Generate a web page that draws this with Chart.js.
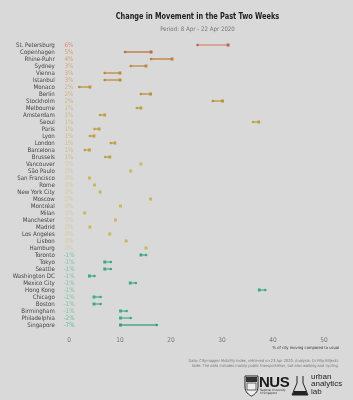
<!DOCTYPE html>
<html>
<head>
<meta charset="utf-8">
<script src="https://cdn.jsdelivr.net/npm/chart.js@4.4.1/dist/chart.umd.min.js"></script>
<style>
  html, body { margin:0; padding:0; background:#d9d9d9; }
  #wrap { position:relative; width:353px; height:400px; overflow:hidden; background:#d9d9d9; }
  #c { position:absolute; left:0; top:0; }
  .t { position:absolute; white-space:nowrap; font-family:"Liberation Sans Narrow","DejaVu Sans Condensed","Roboto",sans-serif; }
  #title { left:0; width:395px; top:10px; text-align:center; font-weight:bold; font-size:9.4px; color:#222; transform:scaleX(0.78); transform-origin:197.5px 0; }
  #sub { left:0; width:395px; top:25px; text-align:center; font-size:6.1px; color:#777; }
  #foot { right:14px; top:357.5px; text-align:right; font-size:3.95px; line-height:5px; color:#777; }
  #nus { left:259px; top:373px; font-family:"Liberation Sans","Roboto",sans-serif; font-weight:bold; font-size:15px; color:#1a1a1a; letter-spacing:-0.5px; }
  #nussub { left:260px; top:389px; font-size:3px; line-height:3.4px; color:#333; }
  #ual { left:311px; top:373px; font-family:"Liberation Sans","Roboto",sans-serif; font-size:8px; line-height:7.4px; color:#222; }
</style>
</head>
<body>
<div id="wrap">
  <canvas id="c" width="353" height="400"></canvas>
  <div class="t" id="title">Change in Movement in the Past Two Weeks</div>
  <div class="t" id="sub">Period: 8 Apr - 22 Apr 2020</div>
  <div class="t" id="foot">Data: Citymapper Mobility Index, retrieved on 23 Apr 2020. Analysis: Dr Filip Biljecki.<br>Note: The data includes mainly public transportation, but also walking and cycling.</div>
  <svg style="position:absolute;left:244px;top:375px" width="15" height="22" viewBox="0 0 15 22">
    <path d="M1 1 H14 V12 C14 17 10 20 7.5 21 C5 20 1 17 1 12 Z" fill="#eee" stroke="#222" stroke-width="1"/>
    <rect x="2" y="2" width="11" height="5" fill="#333"/>
    <rect x="3" y="8" width="9" height="7" fill="none" stroke="#444" stroke-width="0.8"/>
  </svg>
  <div class="t" id="nus">NUS</div>
  <div class="t" id="nussub">National University<br>of Singapore</div>
  <svg style="position:absolute;left:291px;top:375px" width="18" height="22" viewBox="0 0 18 22">
    <path d="M6 1 V8 L1 20 H17 L12 8 V1" fill="none" stroke="#222" stroke-width="1"/>
    <path d="M3 16 H15 L16.5 20 H1.5 Z" fill="#222"/>
  </svg>
  <div class="t" id="ual">urban<br>analytics<br>lab</div>
</div>
<script>
// ---- data ----
const cities = ["St. Petersburg","Copenhagen","Rhine-Ruhr","Sydney","Vienna","Istanbul","Monaco","Berlin","Stockholm","Melbourne","Amsterdam","Seoul","Paris","Lyon","London","Barcelona","Brussels","Vancouver","São Paulo","San Francisco","Rome","New York City","Moscow","Montréal","Milan","Manchester","Madrid","Los Angeles","Lisbon","Hamburg","Toronto","Tokyo","Seattle","Washington DC","Mexico City","Hong Kong","Chicago","Boston","Birmingham","Philadelphia","Singapore"];
const apr8  = [25.2,11.0,16.1,12.1,7.0,7.0,2.0,14.1,28.2,13.3,6.1,36.1,5.0,4.1,8.2,3.1,7.1,14.1,12.1,4.0,5.0,6.1,16.0,10.1,3.1,9.1,4.1,8.0,11.2,15.1,15.1,8.2,8.2,5.0,13.1,38.5,6.2,6.2,11.3,12.1,17.2];
const apr22 = [31.2,16.1,20.2,15.1,10.0,10.0,4.1,16.0,30.1,14.1,7.0,37.2,5.9,4.9,9.0,4.0,8.0,14.1,12.1,4.0,5.0,6.1,16.0,10.1,3.1,9.1,4.1,8.0,11.2,15.1,14.1,7.0,7.0,4.0,12.0,37.3,4.9,4.9,10.1,10.1,10.1];
const changeLabels = [6,5,4,3,3,3,2,2,2,1,1,1,1,1,1,1,1,0,0,0,0,0,0,0,0,0,0,0,0,0,-1,-1,-1,-1,-1,-1,-1,-1,-1,-2,-7];
const xTicks = [0,10,20,30,40,50];

// ---- styles ----
const markColor = {6:"#c4604e",5:"#b8703a",4:"#bf7c3a",3:"#bd883e",2:"#b8923c",1:"#bea042",0:"#c9b95c","-1":"#3ea884","-2":"#3ea884","-7":"#2f9c7a"};
const lineColor = {6:"#d4947e",5:"#bd8050",4:"#c28a4e",3:"#c09450",2:"#bc9c50",1:"#c2a854",0:"#cfc070","-1":"#5cb494","-2":"#5cb494","-7":"#4aa888"};
const labelColor = {6:"#d9897a",5:"#d69a6c",4:"#d2a472",3:"#cfaa78",2:"#ccb27e",1:"#cdbb86",0:"#d2cba4","-1":"#7cc2a6","-2":"#6cbc9c","-7":"#5cb494"};
const rowMark = changeLabels.map(v => markColor[v]);
const rowLine = changeLabels.map(v => lineColor[v]);

const FONT = "'Liberation Sans Narrow','DejaVu Sans Condensed','Roboto',sans-serif";

const pctPlugin = {
  id: 'pct',
  afterDatasetsDraw(chart) {
    const {ctx, scales:{x, y}} = chart;
    ctx.save();
    ctx.font = "6.3px " + FONT;
    ctx.textAlign = 'center';
    ctx.textBaseline = 'middle';
    changeLabels.forEach((v, i) => {
      ctx.fillStyle = labelColor[v];
      ctx.fillText(v + '%', x.getPixelForValue(0), y.getPixelForValue(i));
    });
    ctx.restore();
  }
};

new Chart(document.getElementById('c'), {
  type: 'bar',
  data: {
    labels: cities,
    datasets: [
      { type:'bar', data: apr8.map((v,i)=>[v, apr22[i]]), backgroundColor: rowLine, borderWidth:0, barThickness:1, order:3 },
      { type:'line', data: apr8, showLine:false, pointRadius:1.3, pointBackgroundColor: rowMark, pointBorderColor: rowMark, pointBorderWidth:0, order:2 },
      { type:'line', data: apr22, showLine:false, pointRadius:2.0, pointStyle:'rect', pointBackgroundColor: rowMark, pointBorderColor: rowMark, pointBorderWidth:0, order:1 }
    ]
  },
  options: {
    indexAxis: 'y',
    responsive: false,
    animation: false,
    layout: { padding: { left:0, right:14, top:41.5, bottom:50 } },
    plugins: { legend:{display:false}, tooltip:{enabled:false}, title:{display:false} },
    scales: {
      x: {
        min: -2, max: 52.94,
        afterBuildTicks(s){ s.ticks = xTicks.map(v=>({value:v})); },
        afterFit(s){ s.height = 21.5; },
        grid: { display:false, drawTicks:false },
        border: { display:false },
        ticks: { padding:8, color:'#777', font:{ size:6.5, family:FONT } },
        title: { display:true, text:'% of city moving compared to usual', align:'end', color:'#333', font:{ size:4.1, family:FONT }, padding:{ top:0, bottom:0 } }
      },
      y: {
        afterFit(s){ s.width = 58.8; },
        grid: { display:false, drawTicks:false },
        border: { display:false },
        ticks: { padding:4, color:'#444', autoSkip:false, font:{ size:6.1, family:FONT } }
      }
    }
  },
  plugins: [pctPlugin]
});
</script>
</body>
</html>
